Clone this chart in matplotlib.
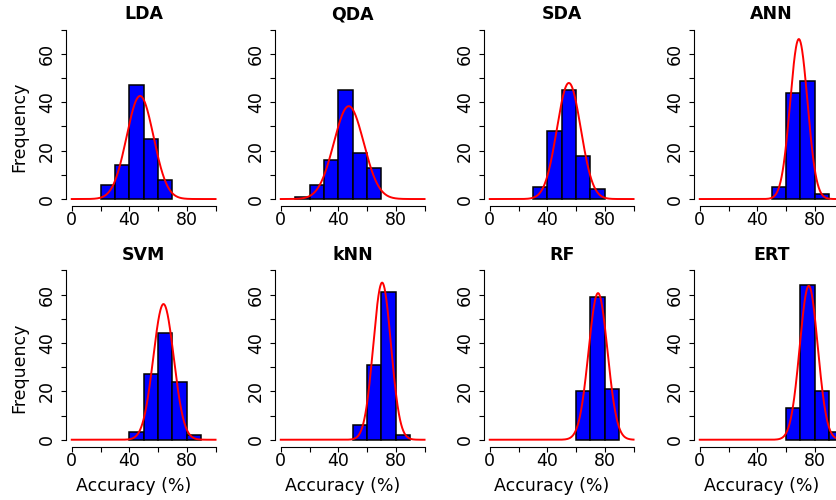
import numpy as np
import matplotlib
matplotlib.use("Agg")
import matplotlib.pyplot as plt

plt.rcParams.update({"font.family": "DejaVu Sans", "font.size": 12})

# --- datos --------------------------------------------------------------------
modelos = ["LDA", "QDA", "SDA", "ANN", "SVM", "kNN", "RF", "ERT"]
bordes = np.arange(0, 101, 10)  # limites de clase (Accuracy %)

frec_lda = [0, 0, 6, 14, 47, 25, 8, 0, 0, 0]
frec_qda = [0, 1, 6, 16, 45, 19, 13, 0, 0, 0]
frec_sda = [0, 0, 0, 5, 28, 45, 18, 4, 0, 0]
frec_ann = [0, 0, 0, 0, 0, 5, 44, 49, 2, 0]
frec_svm = [0, 0, 0, 0, 3, 27, 44, 24, 2, 0]
frec_knn = [0, 0, 0, 0, 0, 6, 31, 61, 2, 0]
frec_rf = [0, 0, 0, 0, 0, 0, 20, 59, 21, 0]
frec_ert = [0, 0, 0, 0, 0, 0, 13, 64, 20, 3]
frecuencias = [frec_lda, frec_qda, frec_sda, frec_ann,
               frec_svm, frec_knn, frec_rf, frec_ert]

# curva normal ajustada (media, desviacion)
medias = [47.5, 47.3, 55.0, 68.9, 63.8, 70.5, 75.3, 75.8]
desvios = [9.36, 10.39, 8.31, 6.03, 7.11, 6.14, 6.58, 6.27]

# --- figura -----------------------------------------------------------------
W, H = 837, 500
fig = plt.figure(figsize=(W / 100, H / 100), dpi=100)

lefts = [66, 275, 484, 694]
bottoms = [205.8, 446.5]  # pixeles desde arriba
ancho, alto = 155.3, 182.8

xs = np.linspace(0, 100, 400)
for i, nombre in enumerate(modelos):
    fila, col = divmod(i, 4)
    ax = fig.add_axes([lefts[col] / W, (H - bottoms[fila]) / H, ancho / W, alto / H])
    frec = np.array(frecuencias[i])
    usar = frec > 0
    ax.bar(bordes[:-1][usar], frec[usar], width=10, align="edge",
           color="#0000FF", edgecolor="black", linewidth=1.1)
    n = frec.sum()
    mu, sd = medias[i], desvios[i]
    ys = n * 10 * np.exp(-0.5 * ((xs - mu) / sd) ** 2) / (sd * np.sqrt(2 * np.pi))
    ax.plot(xs, ys, color="#FF0000", linewidth=1.4)

    ax.set_xlim(-4, 104)
    ax.set_ylim(-2.8, 72.8)
    for s in ("top", "right"):
        ax.spines[s].set_visible(False)
    ax.spines["left"].set_bounds(0, 70)
    ax.spines["bottom"].set_bounds(0, 100)
    ax.spines["left"].set_linewidth(0.8)
    ax.spines["bottom"].set_linewidth(0.8)

    ax.set_xticks(np.arange(0, 101, 20))
    ax.set_xticklabels(["0", "", "40", "", "80", ""])
    ax.set_yticks(np.arange(0, 71, 10))
    ax.set_yticklabels(["0", "", "20", "", "40", "", "60", ""])
    ax.tick_params(axis="x", length=3.3, width=0.8, pad=0.5, labelsize=12.5)
    ax.tick_params(axis="y", length=3.3, width=0.8, pad=4, labelsize=12.5)
    for lab in ax.get_yticklabels():
        lab.set_rotation(90)
        lab.set_va("center")

    ax.set_title(nombre, fontsize=12.5, fontweight="bold", pad=1.2)
    if col == 0:
        ax.set_ylabel("Frequency", fontsize=12.5, va="center")
        ax.yaxis.set_label_coords(-0.298, 0.43)
    if fila == 1:
        ax.set_xlabel("Accuracy (%)", fontsize=12.5, va="center")
        ax.xaxis.set_label_coords(0.435, -0.216)

fig.savefig("out.png", dpi=100)
